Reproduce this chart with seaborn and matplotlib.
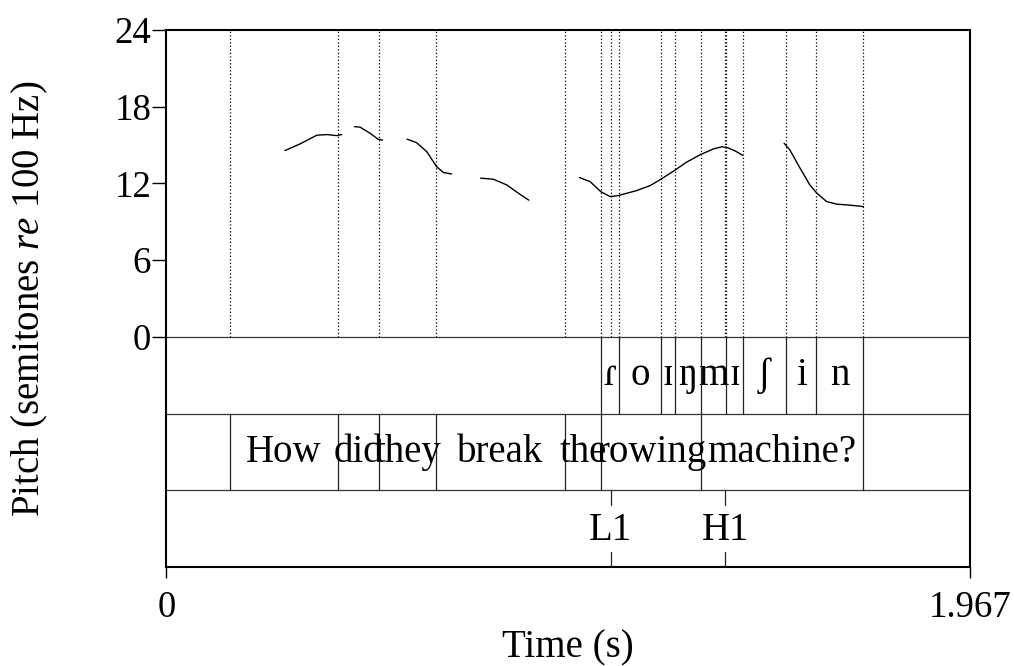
import pandas as pd
import matplotlib.pyplot as plt
import seaborn as sns

# ── Data ───────────────────────────────────────────────────────
DURATION = 1.967

# pitch contour, semitones re 100 Hz, one list per voiced stretch
seg_times = [
    [0.290, 0.327, 0.368, 0.392, 0.417, 0.429],
    [0.460, 0.474, 0.498, 0.518, 0.529],
    [0.589, 0.612, 0.637, 0.661, 0.678, 0.698],
    [0.769, 0.800, 0.833, 0.861, 0.887],
    [1.011, 1.037, 1.063, 1.086, 1.106, 1.151, 1.184, 1.208, 1.243,
     1.273, 1.307, 1.339, 1.359, 1.371, 1.392, 1.410],
    [1.512, 1.526, 1.551, 1.575, 1.592, 1.616, 1.641, 1.673, 1.706],
]
seg_pitch = [
    [14.57, 15.09, 15.77, 15.82, 15.74, 15.82],
    [16.44, 16.40, 15.93, 15.46, 15.38],
    [15.46, 15.19, 14.49, 13.32, 12.85, 12.74],
    [12.41, 12.33, 11.88, 11.24, 10.69],
    [12.46, 12.14, 11.36, 10.97, 11.05, 11.44, 11.83, 12.28, 13.00,
     13.66, 14.25, 14.70, 14.86, 14.83, 14.54, 14.21],
    [15.14, 14.62, 13.19, 11.88, 11.24, 10.58, 10.38, 10.30, 10.19],
]

phone_bounds = [1.064, 1.108, 1.210, 1.245, 1.308, 1.370, 1.411, 1.517, 1.590, 1.706]
phones = ["ɾ", "o", "ɪ", "ŋ", "m", "ɪ", "ʃ", "i", "n"]

word_bounds = [0.156, 0.419, 0.521, 0.659, 0.975, 1.064, 1.308, 1.706]
words = ["How", "did", "they", "break", "the", "rowing", "machine?"]

tone_times = [1.088, 1.368]
tones = ["L1", "H1"]

y_ticks = [0, 6, 12, 18, 24]

# ── Style ──────────────────────────────────────────────────────
sns.set_theme(style="white")
SERIF = ["Liberation Serif", "DejaVu Serif"]
plt.rcParams.update({
    "font.family": SERIF,
    "mathtext.fontset": "custom",
    "mathtext.rm": "Liberation Serif",
    "mathtext.it": "Liberation Serif:italic",
    "text.color": "black",
    "axes.labelcolor": "black",
    "axes.edgecolor": "black",
    "axes.linewidth": 1.5,
})
FS = 28          # tier text and axis titles
FS_TICK = 26.5
TIER_H = 6.0     # each tier is as tall as one 6-semitone step
LINE_C = "#222222"

rows = []
for i, (ts, ps) in enumerate(zip(seg_times, seg_pitch)):
    for t, p in zip(ts, ps):
        rows.append({"seg": i, "time": t, "pitch": p})
pitch_df = pd.DataFrame(rows)

fig = plt.figure(figsize=(10.14, 6.66), dpi=100)
ax = fig.add_axes([0.1642, 0.1486, 0.7924, 0.8064])

# pitch contour
sns.lineplot(data=pitch_df, x="time", y="pitch", units="seg", estimator=None,
             color="black", linewidth=1.0, ax=ax, legend=False)

# dotted guides over the pitch area at every boundary / point
guides = sorted(set(word_bounds) | set(phone_bounds) | set(tone_times))
for t in guides:
    ax.plot([t, t], [0, 24], color="black", linewidth=0.9,
            linestyle=(0, (1, 1.8)))

# tier separators
for yy in [0, -TIER_H, -2 * TIER_H]:
    ax.axhline(yy, color="#333333", linewidth=0.9)

# tier 1: phones
top1, bot1 = 0, -TIER_H
for b in phone_bounds:
    ax.plot([b, b], [bot1, top1], color=LINE_C, linewidth=0.9)
for lab, a, b in zip(phones, phone_bounds[:-1], phone_bounds[1:]):
    ax.text((a + b) / 2, (top1 + bot1) / 2 - 0.75, lab, ha="center",
            va="baseline", fontsize=FS, family=SERIF, color="black")

# tier 2: words
top2, bot2 = -TIER_H, -2 * TIER_H
for b in word_bounds:
    ax.plot([b, b], [bot2, top2], color=LINE_C, linewidth=0.9)
for lab, a, b in zip(words, word_bounds[:-1], word_bounds[1:]):
    ax.text((a + b) / 2, (top2 + bot2) / 2 - 0.8, lab, ha="center",
            va="baseline", fontsize=FS, family=SERIF, color="black")

# tier 3: tone points
top3, bot3 = -2 * TIER_H, -3 * TIER_H
for t, lab in zip(tone_times, tones):
    ax.plot([t, t], [top3, top3 - 1.15], color=LINE_C, linewidth=0.9)
    ax.plot([t, t], [bot3, bot3 + 1.15], color=LINE_C, linewidth=0.9)
    ax.text(t, (top3 + bot3) / 2 - 0.9, lab, ha="center",
            va="baseline", fontsize=FS, family=SERIF, color="black")

ax.set_xlim(0, DURATION)
ax.set_ylim(-3 * TIER_H, 24)
ax.set_yticks(y_ticks)
ax.set_yticklabels([str(v) for v in y_ticks])
ax.set_xticks([0, DURATION])
ax.set_xticklabels(["0", "1.967"])
ax.tick_params(axis="both", direction="out", length=10, width=1.0,
               colors="black", labelsize=FS_TICK, bottom=True, left=True)
ax.tick_params(axis="y", pad=1)
ax.tick_params(axis="x", pad=9, length=8)

for s in ax.spines.values():
    s.set_visible(True)
    s.set_color("black")
    s.set_linewidth(1.5)

ax.set_xlabel("Time (s)", fontsize=FS, color="black")
ax.set_ylabel(r"Pitch (semitones $re$ 100 Hz)", fontsize=FS, color="black")
ax.xaxis.set_label_coords(0.5, -0.116)
ax.yaxis.set_label_coords(-0.145, 0.5)

fig.savefig("out.png", dpi=100)
plt.close(fig)
